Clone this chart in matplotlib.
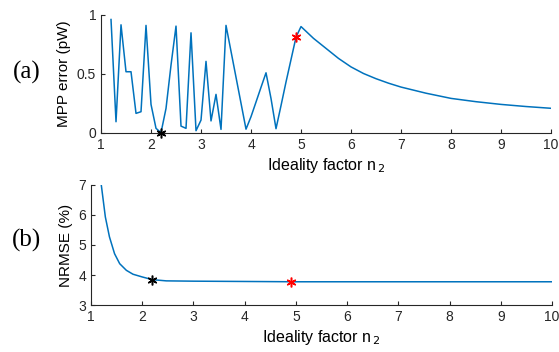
import numpy as np
import matplotlib.pyplot as plt

# MPP error (pW) vs ideality factor n2
n2_mpp = [1.2, 1.3, 1.4, 1.5, 1.6, 1.7, 1.8, 1.9, 2.0, 2.1, 2.2, 2.3, 2.4, 2.5,
          2.6, 2.7, 2.8, 2.9, 3.0, 3.1, 3.2, 3.3, 3.4, 3.5, 3.6, 3.7, 3.8, 3.9,
          4.0, 4.1, 4.2, 4.3, 4.4, 4.5, 4.6, 4.7, 4.8, 4.9, 5.0,
          5.25, 5.5, 5.75, 6.0, 6.25, 6.5, 6.75, 7.0, 7.5, 8.0, 8.5, 9.0, 9.5, 10.0]
mpp_err = [0.96, 0.093, 0.915, 0.517, 0.517, 0.164, 0.178, 0.91, 0.24, 0.037, 0.0,
           0.206, 0.573, 0.904, 0.056, 0.037, 0.847, 0.017, 0.107, 0.605, 0.10,
           0.325, 0.028, 0.91, 0.69, 0.47, 0.25, 0.03,
           0.136, 0.26, 0.385, 0.508, 0.29, 0.034, 0.23, 0.43, 0.62, 0.81, 0.9,
           0.80, 0.715, 0.63, 0.558, 0.502, 0.458, 0.42, 0.387, 0.335, 0.291,
           0.263, 0.24, 0.222, 0.207]

# NRMSE (%) vs ideality factor n2
n2_rmse = [1.2, 1.28, 1.36, 1.46, 1.56, 1.69, 1.82, 2.0, 2.2, 2.47, 3.0, 4.0,
           5.0, 6.0, 7.0, 8.0, 9.0, 10.0]
nrmse = [7.0, 5.93, 5.27, 4.71, 4.38, 4.16, 4.03, 3.94, 3.85, 3.81, 3.80, 3.79,
         3.78, 3.78, 3.78, 3.78, 3.78, 3.78]

# highlighted points
best_n2, best_mpp, best_rmse = 2.2, 0.0, 3.85
sel_n2, sel_mpp, sel_rmse = 4.9, 0.81, 3.78

plt.rcParams["font.family"] = ["Liberation Sans", "DejaVu Sans"]
plt.rcParams["font.size"] = 10
blue = "#0072BD"
grey = "#262626"
star = (6, 2, 0)

fig = plt.figure(figsize=(5.59, 3.52), dpi=100)
ax_a = fig.add_axes([0.1807, 0.623, 0.805, 0.335])
ax_b = fig.add_axes([0.1628, 0.1327, 0.8247, 0.3426])

ax_a.plot(n2_mpp, mpp_err, color=blue, lw=1.1)
ax_a.plot(best_n2, best_mpp, marker=star, color="black", ms=7, mew=1.1, clip_on=False, zorder=5)
ax_a.plot(sel_n2, sel_mpp, marker=star, color="red", ms=7, mew=1.1, clip_on=False, zorder=5)
ax_a.set_xlim(1, 10)
ax_a.set_ylim(0, 1)
ax_a.set_yticks([0, 0.5, 1])
ax_a.set_yticklabels(["0", "0.5", "1"])
ax_a.set_ylabel("MPP error (pW)", fontsize=11)

ax_b.plot(n2_rmse, nrmse, color=blue, lw=1.1)
ax_b.plot(best_n2, best_rmse, marker=star, color="black", ms=7, mew=1.1, zorder=5)
ax_b.plot(sel_n2, sel_rmse, marker=star, color="red", ms=7, mew=1.1, zorder=5)
ax_b.set_xlim(1, 10)
ax_b.set_ylim(3, 7)
ax_b.set_yticks([3, 4, 5, 6, 7])
ax_b.set_ylabel("NRMSE (%)", fontsize=11)

for ax in (ax_a, ax_b):
    ax.set_xticks(range(1, 11))
    ax.set_xlabel("Ideality factor n$_{\\,2}$", fontsize=11.5, labelpad=3)
    ax.spines["top"].set_visible(False)
    ax.spines["right"].set_visible(False)
    for s in ("left", "bottom"):
        ax.spines[s].set_color(grey)
        ax.spines[s].set_linewidth(0.8)
    ax.tick_params(direction="in", length=3, width=0.8, colors=grey, labelsize=10)

fig.text(0.047, 0.795, "(a)", family="Liberation Serif", fontsize=18, va="center", ha="center")
fig.text(0.047, 0.318, "(b)", family="Liberation Serif", fontsize=18, va="center", ha="center")

plt.savefig("out.png", dpi=100)
